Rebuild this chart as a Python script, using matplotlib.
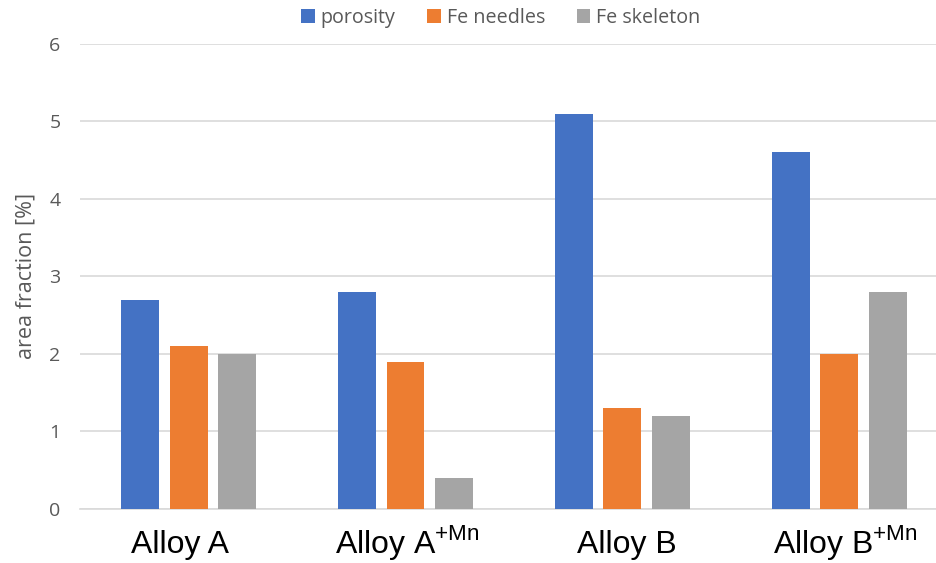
import matplotlib.pyplot as plt
import matplotlib.transforms as mtransforms
import numpy as np

categories = ["Alloy A", r"Alloy A$^{\mathregular{+Mn}}$", "Alloy B", r"Alloy B$^{\mathregular{+Mn}}$"]
porosity = [2.7, 2.8, 5.1, 4.6]
fe_needles = [2.1, 1.9, 1.3, 2.0]
fe_skeleton = [2.0, 0.4, 1.2, 2.8]

series = [("porosity", porosity, "#4472C4"),
          ("Fe needles", fe_needles, "#ED7D31"),
          ("Fe skeleton", fe_skeleton, "#A5A5A5")]

plt.rcParams["font.family"] = ["Open Sans", "DejaVu Sans"]

fig = plt.figure(figsize=(9.36, 5.63), dpi=100)
ax = fig.add_axes([0.0855, 0.096, 0.9145, 0.826])

x = np.arange(len(categories))
width = 0.175
step = 0.2235
for i, (name, vals, col) in enumerate(series):
    ax.bar(x + (i - 1) * step, vals, width, color=col, label=name, zorder=3)

ax.set_ylim(0, 6)
ax.set_xlim(-0.5, 3.445)
ax.set_yticks(range(7))
ax.yaxis.grid(True, color="#D9D9D9", linewidth=1.2, zorder=0)
for s in ["top", "right", "left"]:
    ax.spines[s].set_visible(False)
ax.spines["bottom"].set_color("#D9D9D9")
ax.spines["bottom"].set_linewidth(1.2)
ax.tick_params(axis="both", length=0)
ax.tick_params(axis="y", labelsize=14, labelcolor="#595959", pad=14)
ax.set_xticks(x, categories, fontsize=23, family="Liberation Sans", va="baseline")
ax.tick_params(axis="x", pad=32)
# labels in the original sit slightly off the group centres
shifts = [-9, 2, 4, 6]
for lbl, dx in zip(ax.get_xticklabels(), shifts):
    lbl.set_transform(lbl.get_transform() + mtransforms.ScaledTranslation(dx / 100, 0, fig.dpi_scale_trans))
ax.set_ylabel("area fraction [%]", fontsize=15.5, color="#595959", labelpad=9)

fig.legend(loc="upper center", bbox_to_anchor=(0.535, 1.017), ncol=3, frameon=False,
           fontsize=14.2, handlelength=0.7, handleheight=0.7, handletextpad=0.3,
           columnspacing=1.6, labelcolor="#595959")

fig.savefig("out.png", dpi=100)
